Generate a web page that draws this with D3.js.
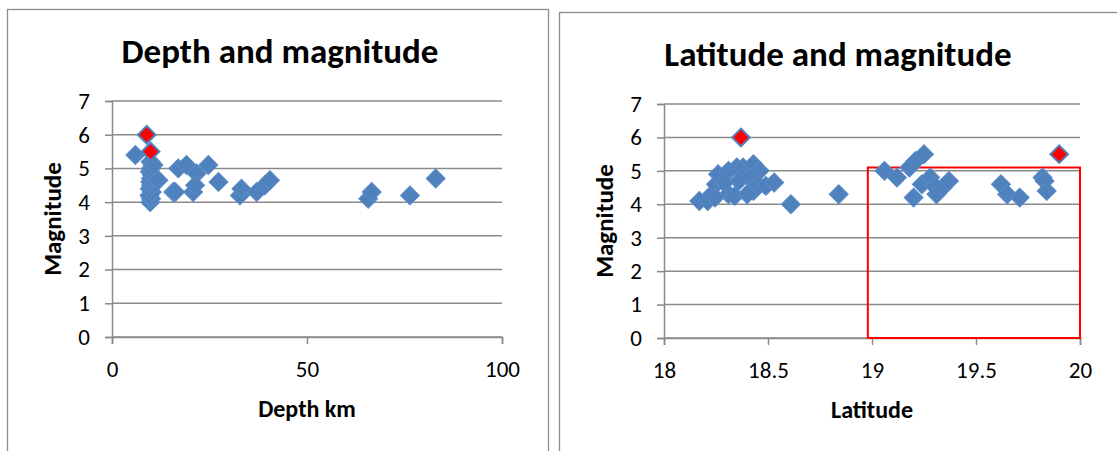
<!DOCTYPE html>
<html>
<head>
<meta charset="utf-8">
<script src="https://cdn.jsdelivr.net/npm/d3@7"></script>
<style>
  html, body { margin: 0; padding: 0; background: #fff; }
  svg { display: block; font-family: Carlito, Lato, "Open Sans", sans-serif; }
</style>
</head>
<body>
<svg id="chart" width="1117" height="451"></svg>
<script>
// ---------- Data ----------
const depthTitle = "Depth and magnitude";
const latTitle = "Latitude and magnitude";
const yTicks = [0, 1, 2, 3, 4, 5, 6, 7];
const depthTicks = [0, 50, 100];
const latTicks = [18, 18.5, 19, 19.5, 20];

// Depth chart (blue points)
const depthKm = [6, 9.8, 10, 9.6, 10.2, 9.7, 10, 10.4, 9.8, 10, 10.3, 9.7, 10, 10.4, 9.9, 10.6, 11.9,
  15.7, 16.2, 17, 19.1, 20.8, 21.7, 21.3, 24.7, 27.3, 32.8, 33.2, 37.1, 39.2, 40.5, 65.7, 66.6, 76.4, 83];
const depthMag = [5.4, 4.0, 4.1, 4.2, 4.3, 4.4, 4.5, 4.5, 4.6, 4.7, 4.8, 4.9, 5.0, 5.1, 5.2, 5.1, 4.65,
  4.3, 4.3, 5.0, 5.1, 4.3, 4.85, 4.5, 5.1, 4.6, 4.2, 4.4, 4.3, 4.5, 4.65, 4.1, 4.3, 4.2, 4.7];
// Depth chart (highlighted points)
const depthKmRed = [8.9, 9.9];
const depthMagRed = [6.0, 5.5];

// Latitude chart (blue points)
const latDeg = [18.17, 18.21, 18.23, 18.25, 18.26, 18.31, 18.35, 18.38, 18.43, 18.46, 18.31, 18.34, 18.29,
  18.36, 18.41, 18.43, 18.45, 18.49, 18.53, 18.40, 18.245, 18.61, 18.84,
  19.06, 19.12, 19.18, 19.21, 19.25, 19.20, 19.24, 19.28, 19.30, 19.31, 19.34, 19.37,
  19.62, 19.65, 19.71, 19.82, 19.83, 19.84];
const latMag = [4.1, 4.1, 4.3, 4.6, 4.9, 5.0, 5.1, 5.1, 5.2, 5.0, 4.3, 4.25, 4.65,
  4.7, 4.8, 4.4, 4.6, 4.55, 4.65, 4.3, 4.2, 4.0, 4.3,
  5.0, 4.8, 5.1, 5.3, 5.5, 4.2, 4.6, 4.8, 4.55, 4.3, 4.5, 4.7,
  4.6, 4.3, 4.2, 4.8, 4.7, 4.4];
// Latitude chart (highlighted points)
const latDegRed = [18.37, 19.9];
const latMagRed = [6.0, 5.5];

// Highlight box on latitude chart: [lat0, lat1], [mag0, mag1]
const boxLat = [18.98, 20];
const boxMag = [0, 5.1];

// ---------- Drawing ----------
const svg = d3.select("#chart");
const gridColor = "#8a8a8a";
const blue = "#4F81BD";
const blueEdge = "#5a8ac6";
const FONT = "Carlito, Lato, sans-serif";

// panel frames
svg.append("rect").attr("x", 7.5).attr("y", 9.5).attr("width", 541).attr("height", 470)
  .attr("fill", "none").attr("stroke", "#8c8c8c").attr("stroke-width", 1.3);
svg.append("rect").attr("x", 559.5).attr("y", 12.5).attr("width", 600).attr("height", 470)
  .attr("fill", "none").attr("stroke", "#8c8c8c").attr("stroke-width", 1.3);

const diamond = d3.symbol().type(d3.symbolSquare).size(180);

function drawChart(cfg) {
  const x = d3.scaleLinear().domain(cfg.xDomain).range([cfg.left, cfg.right]);
  const y = d3.scaleLinear().domain([0, 7]).range([cfg.bottom, cfg.top]);
  const g = svg.append("g");

  // gridlines
  g.selectAll(".grid").data(yTicks).join("line")
    .attr("x1", cfg.left).attr("x2", cfg.right)
    .attr("y1", d => y(d)).attr("y2", d => y(d))
    .attr("stroke", gridColor).attr("stroke-width", 1.5);

  // y axis
  const yAxis = g.append("g").attr("transform", `translate(${cfg.left},0)`)
    .call(d3.axisLeft(y).tickValues(yTicks).tickSize(7).tickPadding(15).tickFormat(d3.format("d")));
  yAxis.select(".domain").attr("stroke", gridColor).attr("stroke-width", 1.5);
  yAxis.selectAll(".tick line").attr("stroke", gridColor).attr("stroke-width", 1.5);
  yAxis.selectAll(".tick text").attr("font-size", 23).attr("fill", "#000")
    .attr("font-family", FONT);

  // x axis
  const xAxis = g.append("g").attr("transform", `translate(0,${cfg.bottom})`)
    .call(d3.axisBottom(x).tickValues(cfg.xTicks).tickSize(7).tickPadding(17).tickFormat(d => String(d)));
  xAxis.select(".domain").attr("stroke", gridColor).attr("stroke-width", 1.5);
  xAxis.selectAll(".tick line").attr("stroke", gridColor).attr("stroke-width", 1.5);
  xAxis.selectAll(".tick text").attr("font-size", 23).attr("fill", "#000")
    .attr("font-family", FONT);

  // title
  g.append("text").attr("x", cfg.titleX).attr("y", cfg.titleY)
    .attr("text-anchor", "middle").attr("font-weight", "bold").attr("font-size", 35)
    .text(cfg.title);

  // axis titles
  g.append("text").attr("x", (cfg.left + cfg.right) / 2).attr("y", cfg.xLabelY)
    .attr("text-anchor", "middle").attr("font-weight", "bold").attr("font-size", 24)
    .text(cfg.xLabel);
  g.append("text")
    .attr("transform", `translate(${cfg.yLabelX},${(cfg.top + cfg.bottom) / 2}) rotate(-90)`)
    .attr("text-anchor", "middle").attr("dominant-baseline", "middle")
    .attr("font-weight", "bold").attr("font-size", 25)
    .text("Magnitude");

  // highlight box
  if (cfg.box) {
    g.append("rect")
      .attr("x", x(cfg.box[0][0])).attr("y", y(cfg.box[1][1]))
      .attr("width", x(cfg.box[0][1]) - x(cfg.box[0][0]))
      .attr("height", y(cfg.box[1][0]) - y(cfg.box[1][1]))
      .attr("fill", "none").attr("stroke", "#ff0000").attr("stroke-width", 2);
  }

  // blue points
  const pts = cfg.xs.map((v, i) => [v, cfg.ys[i]]);
  g.selectAll(".pt").data(pts).join("path")
    .attr("d", diamond)
    .attr("transform", d => `translate(${x(d[0])},${y(d[1])}) rotate(45)`)
    .attr("fill", blue).attr("stroke", blueEdge).attr("stroke-width", 1);

  // red points
  const red = cfg.rxs.map((v, i) => [v, cfg.rys[i]]);
  g.selectAll(".rpt").data(red).join("path")
    .attr("d", d3.symbol().type(d3.symbolSquare).size(155))
    .attr("transform", d => `translate(${x(d[0])},${y(d[1])}) rotate(45)`)
    .attr("fill", "#ff0000").attr("stroke", blue).attr("stroke-width", 2);
}

drawChart({
  left: 112, right: 502, top: 101, bottom: 337,
  xDomain: [0, 100], xTicks: depthTicks,
  title: depthTitle, titleX: 280, titleY: 63,
  xLabel: "Depth km", xLabelY: 417, yLabelX: 55,
  xs: depthKm, ys: depthMag, rxs: depthKmRed, rys: depthMagRed
});

drawChart({
  left: 664, right: 1080, top: 104, bottom: 338,
  xDomain: [18, 20], xTicks: latTicks,
  title: latTitle, titleX: 838, titleY: 66,
  xLabel: "Latitude", xLabelY: 418, yLabelX: 607,
  xs: latDeg, ys: latMag, rxs: latDegRed, rys: latMagRed,
  box: [boxLat, boxMag]
});
</script>
</body>
</html>
